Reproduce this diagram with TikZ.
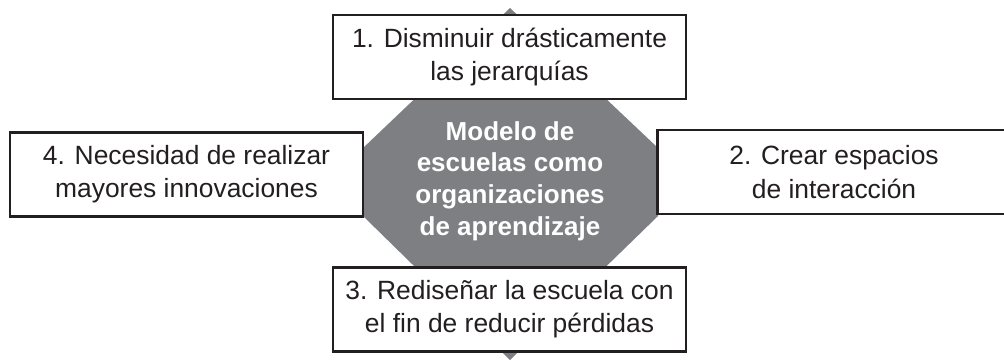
\documentclass[tikz,border=0pt]{standalone}
\usepackage{fontspec}
\setmainfont{Liberation Sans}
\definecolor{hubgray}{RGB}{126,127,131}
\definecolor{ink}{RGB}{35,31,32}

\begin{document}
\begin{tikzpicture}[x=0.5pt,y=-0.5pt,
    box/.style={draw=ink,fill=white,line width=1.3pt,minimum width=176.5pt,minimum height=42pt,
      align=center,inner sep=0pt,text=ink,font=\fontsize{13.2pt}{16.6pt}\selectfont},
    hub/.style={align=center,text=white,font=\fontsize{13pt}{15.9pt}\selectfont\bfseries}]
  \useasboundingbox (0,0) rectangle (1004,359);
  % central shape
  \fill[hubgray] (510,8) -- (658,148) -- (658,216) -- (510,360) -- (363,216) -- (363,148) -- cycle;
  % the four boxes
  \node (top) [box] at (509.5,57) {1. Disminuir drásticamente\\las jerarquías};
  \node (right) [box] at (834,172) {2. Crear espacios\\de interacción};
  \node (bottom) [box] at (509.5,309.5) {3. Rediseñar la escuela con\\el fin de reducir pérdidas};
  \node (left) [box] at (186.5,174.5) {4. Necesidad de realizar\\mayores innovaciones};
  \node (hubtext) [hub] at (510,181) {Modelo de\\escuelas como\\organizaciones\\de aprendizaje};
\end{tikzpicture}
\end{document}
